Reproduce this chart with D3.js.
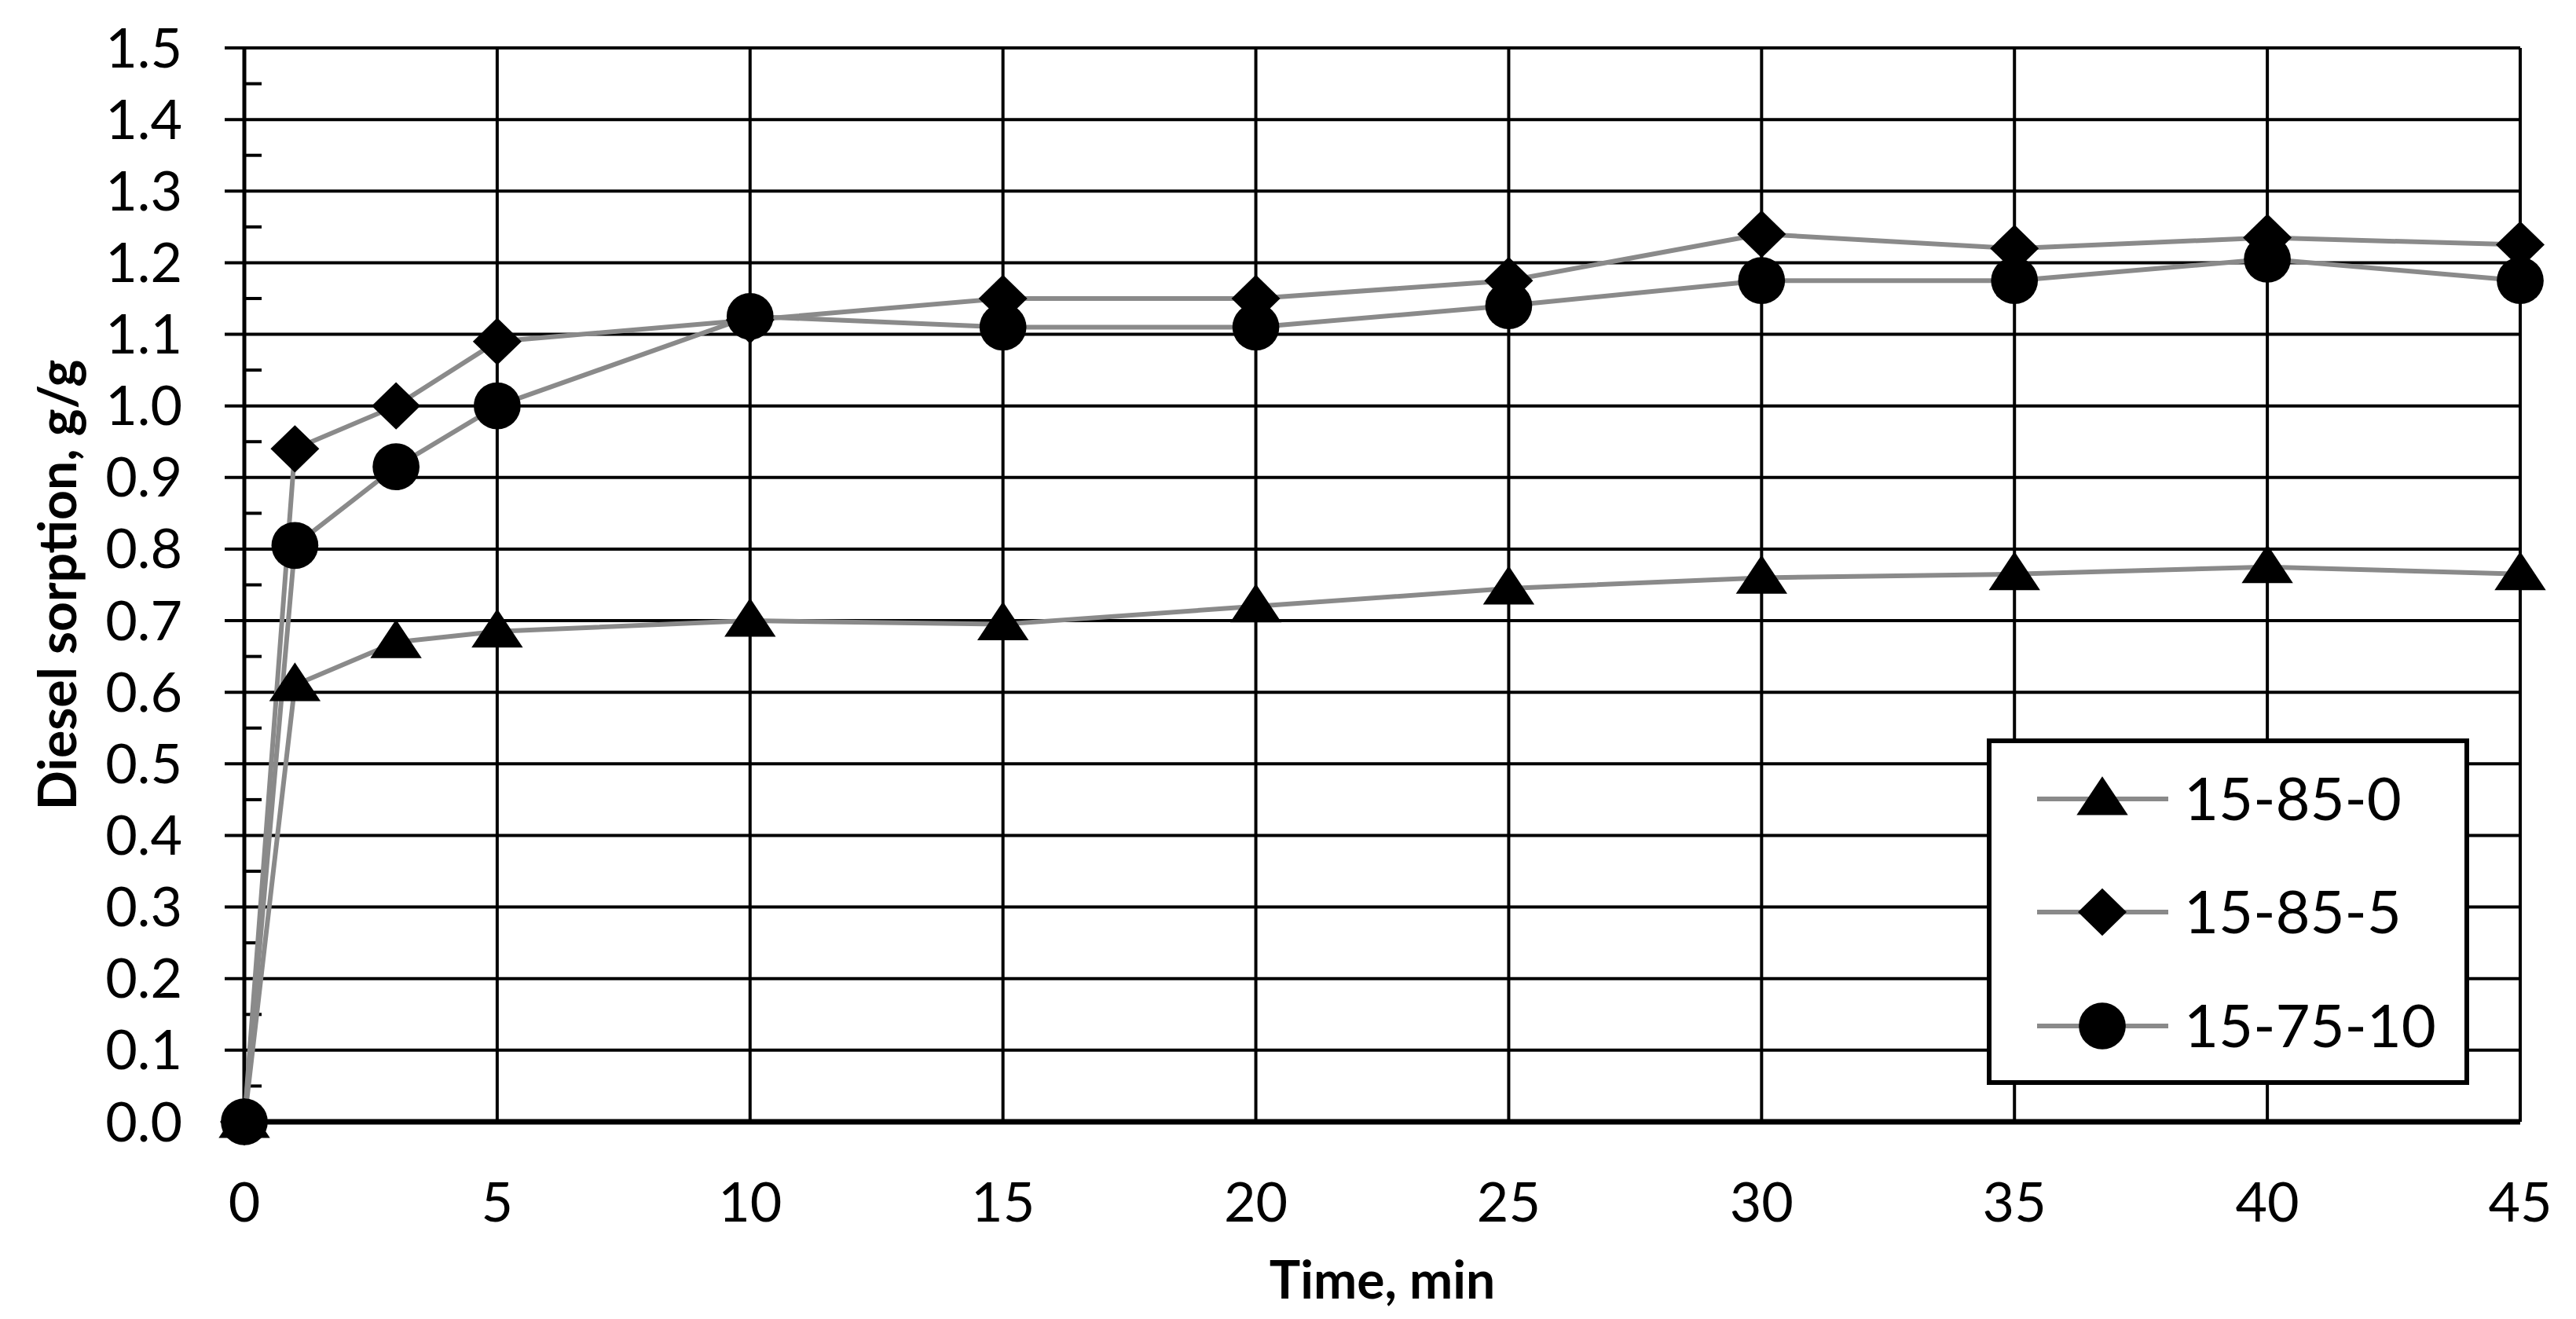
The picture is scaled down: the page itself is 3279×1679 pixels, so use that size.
<!DOCTYPE html>
<html><head><meta charset="utf-8">
<script src="https://cdn.jsdelivr.net/npm/d3@7"></script>
<style>body{margin:0;background:#fff}</style>
</head><body>
<svg id="c" width="3279" height="1679"></svg>
<script>
const times = [0, 1, 3, 5, 10, 15, 20, 25, 30, 35, 40, 45]
const s15_85_0 = [0, 0.61, 0.67, 0.685, 0.70, 0.695, 0.72, 0.745, 0.76, 0.765, 0.775, 0.765]
const s15_85_5 = [0, 0.94, 1.00, 1.09, 1.12, 1.15, 1.15, 1.175, 1.24, 1.22, 1.235, 1.225]
const s15_75_10 = [0, 0.805, 0.915, 1.00, 1.125, 1.11, 1.11, 1.14, 1.175, 1.175, 1.205, 1.175]
const xTicks = d3.range(0, 46, 5)
const yTicks = d3.range(0, 16).map(d => d / 10)
const seriesNames = ['15-85-0', '15-85-5', '15-75-10']

const font = 'Lato, "Open Sans", sans-serif'
const svg = d3.select('#c')
const x = d3.scaleLinear().domain([0, 45]).range([311, 3208])
const y = d3.scaleLinear().domain([0, 1.5]).range([1428, 61])

// grid
svg.append('g').selectAll('line').data(yTicks).enter().append('line')
  .attr('x1', 286).attr('x2', x(45)).attr('y1', d => y(d)).attr('y2', d => y(d))
  .attr('stroke', '#000').attr('stroke-width', 4)
svg.append('g').selectAll('line').data(xTicks.slice(1)).enter().append('line')
  .attr('x1', d => x(d)).attr('x2', d => x(d)).attr('y1', y(0)).attr('y2', y(1.5))
  .attr('stroke', '#000').attr('stroke-width', 4)
// minor ticks
svg.append('g').selectAll('line').data(d3.range(0, 15).map(d => d / 10 + 0.05)).enter().append('line')
  .attr('x1', x(0)).attr('x2', x(0) + 22).attr('y1', d => y(d)).attr('y2', d => y(d))
  .attr('stroke', '#000').attr('stroke-width', 4)
svg.append('line').attr('x1', x(0)).attr('x2', x(0)).attr('y1', y(0)).attr('y2', y(1.5))
  .attr('stroke', '#000').attr('stroke-width', 5)
svg.append('line').attr('x1', x(0)).attr('x2', x(45)).attr('y1', y(0)).attr('y2', y(0))
  .attr('stroke', '#000').attr('stroke-width', 7)

// tick labels
svg.append('g').selectAll('text').data(yTicks).enter().append('text')
  .attr('x', 232).attr('y', d => y(d)).attr('dy', '0.35em').attr('text-anchor', 'end')
  .attr('font-family', font).attr('font-size', 70).text(d => d.toFixed(1))
svg.append('g').selectAll('text').data(xTicks).enter().append('text')
  .attr('x', d => x(d)).attr('y', 1530).attr('dy', '0.35em').attr('text-anchor', 'middle')
  .attr('font-family', font).attr('font-size', 70).text(d => d)

svg.append('text').attr('x', x(22.5)).attr('y', 1630).attr('dy', '0.35em').attr('text-anchor', 'middle')
  .attr('font-family', font).attr('font-weight', 'bold').attr('font-size', 66).text('Time, min')
svg.append('text').attr('transform', `translate(74,${y(0.75)}) rotate(-90)`).attr('dy', '0.35em')
  .attr('text-anchor', 'middle').attr('font-family', font).attr('font-weight', 'bold')
  .attr('font-size', 66).text('Diesel sorption, g/g')

const symbols = [d3.symbolTriangle, d3.symbolDiamond, d3.symbolCircle]
const sizes = [1400, 1300, 2800]
const allSeries = [s15_85_0, s15_85_5, s15_75_10]
const line = d3.line().x((d, i) => x(times[i])).y(d => y(d))

function marker(g, k, cx, cy) {
  const t = k === 1 ? `translate(${cx},${cy}) scale(1.6,0.9)` : k === 0 ? `translate(${cx},${cy + 4}) scale(1.15,1)` : `translate(${cx},${cy})`
  g.append('path').attr('d', d3.symbol().type(symbols[k]).size(sizes[k])())
    .attr('transform', t).attr('fill', '#000')
}

allSeries.forEach((vals, k) => {
  svg.append('path').datum(vals).attr('d', line).attr('fill', 'none')
    .attr('stroke', '#8a8a8a').attr('stroke-width', 6)
})
allSeries.forEach((vals, k) => {
  const g = svg.append('g')
  vals.forEach((v, i) => marker(g, k, x(times[i]), y(v)))
})

// legend
const lg = svg.append('g')
lg.append('rect').attr('x', 2532).attr('y', 943).attr('width', 608).attr('height', 435)
  .attr('fill', '#fff').attr('stroke', '#000').attr('stroke-width', 6)
const ly = [1017, 1161, 1306]
seriesNames.forEach((n, k) => {
  lg.append('line').attr('x1', 2593).attr('x2', 2760).attr('y1', ly[k]).attr('y2', ly[k])
    .attr('stroke', '#8a8a8a').attr('stroke-width', 6)
  marker(lg, k, 2676, ly[k])
  lg.append('text').attr('x', 2780).attr('y', ly[k]).attr('dy', '0.35em')
    .attr('font-family', font).attr('font-size', 76).text(n)
})
</script>
</body></html>
